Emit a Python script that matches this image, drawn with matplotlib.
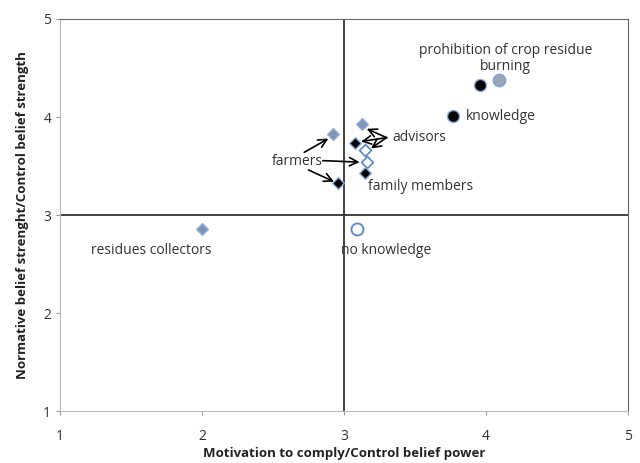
import matplotlib
matplotlib.use('Agg')
import matplotlib.pyplot as plt

plt.rcParams['font.family'] = ['Open Sans', 'DejaVu Sans']

# normative beliefs / control beliefs (x = motivation, y = strength)
gray_x = [2.92, 3.13, 2.0]
gray_y = [3.83, 3.93, 2.86]
open_x = [3.15, 3.16]
open_y = [3.66, 3.54]
black_x = [3.08, 3.15, 2.96]
black_y = [3.74, 3.43, 3.33]

# control beliefs (circles)
ctrl_black_x = [3.96, 3.77]
ctrl_black_y = [4.33, 4.01]
ctrl_gray_x = [4.09]
ctrl_gray_y = [4.38]
ctrl_open_x = [3.09]
ctrl_open_y = [2.86]

fig = plt.figure(figsize=(6.4, 4.63), dpi=100)
ax = fig.add_axes([0.094, 0.112, 0.887, 0.847])

edge = '#8fb0dc'
ax.axhline(3, color='#333333', lw=1.3, zorder=1)
ax.axvline(3, color='#333333', lw=1.3, zorder=1)

ax.scatter(gray_x, gray_y, marker='D', s=36, c='#7f93b5', edgecolors=edge, linewidths=1, zorder=3)
ax.scatter(open_x, open_y, marker='D', s=36, c='white', edgecolors='#5b86c5', linewidths=1.2, zorder=3)
ax.scatter(black_x, black_y, marker='D', s=36, c='black', edgecolors=edge, linewidths=1, zorder=3)
ax.scatter(ctrl_black_x, ctrl_black_y, marker='o', s=75, c='black', edgecolors=edge, linewidths=1, zorder=3)
ax.scatter(ctrl_gray_x, ctrl_gray_y, marker='o', s=75, c='#9aa5b8', edgecolors='#7ea2d6', linewidths=1.2, zorder=3)
ax.scatter(ctrl_open_x, ctrl_open_y, marker='o', s=75, c='white', edgecolors='#5b86c5', linewidths=1.3, zorder=3)

fs = 10
tc = '#333333'
ax.text(4.14, 4.60, 'prohibition of crop residue\nburning', ha='center', va='center', fontsize=fs, color=tc, linespacing=1.1)
ax.text(3.86, 4.01, 'knowledge', ha='left', va='center', fontsize=fs, color=tc)
ax.text(1.64, 2.64, 'residues collectors', ha='center', va='center', fontsize=fs, color=tc)
ax.text(2.98, 2.64, 'no knowledge', ha='left', va='center', fontsize=fs, color=tc)
ax.text(3.17, 3.29, 'family members', ha='left', va='center', fontsize=fs, color=tc)

ap = dict(arrowstyle='->, head_length=0.6, head_width=0.3', color='black', lw=1.2,
          shrinkA=0, shrinkB=0)
ax.text(2.67, 3.55, 'farmers', ha='center', va='center', fontsize=fs, color=tc)
ax.annotate('', xy=(2.89, 3.78), xytext=(2.72, 3.64), arrowprops=ap)
ax.annotate('', xy=(3.11, 3.54), xytext=(2.85, 3.555), arrowprops=ap)
ax.annotate('', xy=(2.93, 3.34), xytext=(2.75, 3.46), arrowprops=ap)

ax.text(3.34, 3.79, 'advisors', ha='left', va='center', fontsize=fs, color=tc)
ax.annotate('', xy=(3.16, 3.88), xytext=(3.30, 3.79), arrowprops=ap)
ax.annotate('', xy=(3.12, 3.75), xytext=(3.30, 3.79), arrowprops=ap)
ax.annotate('', xy=(3.19, 3.68), xytext=(3.30, 3.79), arrowprops=ap)

ax.set_xlim(1, 5)
ax.set_ylim(1, 5)
ax.set_xticks([1, 2, 3, 4, 5])
ax.set_yticks([1, 2, 3, 4, 5])
ax.tick_params(labelsize=10, colors='#999999', labelcolor='#333333', length=3, direction='out')
ax.tick_params(axis='x', pad=10)
for s in ['left', 'bottom']:
    ax.spines[s].set_color('#bbbbbb')
for s in ['top', 'right']:
    ax.spines[s].set_color('#666666')

ax.set_xlabel('Motivation to comply/Control belief power', fontsize=9.5, fontweight='bold', color='#222222', labelpad=2)
ax.set_ylabel('Normative belief strenght/Control belief strength', fontsize=9.5, fontweight='bold', color='#222222', labelpad=10)

fig.savefig('out.png', dpi=100)
